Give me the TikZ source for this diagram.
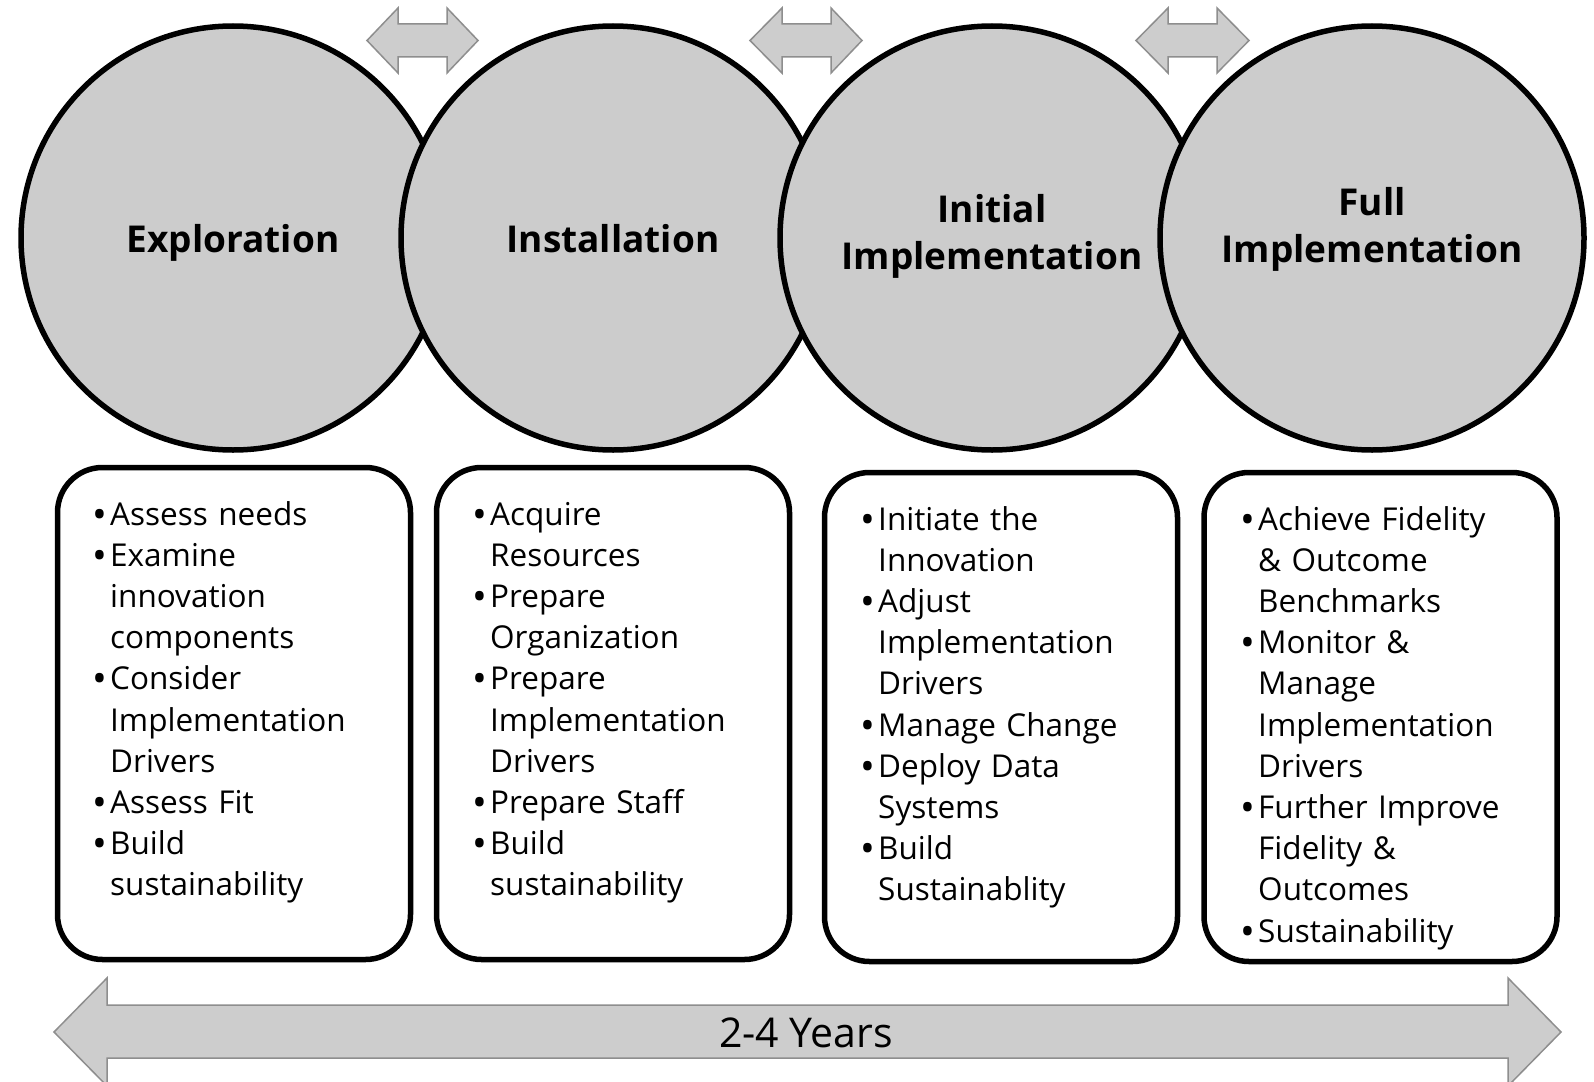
\documentclass[tikz,border=0pt]{standalone}
\usepackage{fontspec}
\setmainfont{Open Sans}
\definecolor{circgray}{HTML}{CCCCCC}
\definecolor{arrgray}{HTML}{CDCDCD}
\definecolor{arrline}{HTML}{8E8E8E}
\newcommand\bl{\makebox[19pt][l]{\hspace*{1pt}\raisebox{-3pt}{\scalebox{1.25}{•}}}}
\newcommand\cl{\hspace*{19pt}}
\begin{document}
\begin{tikzpicture}[x=1pt,y=-1pt,
  phase/.style={circle, draw=black, line width=5.5pt, fill=circgray, minimum size=424pt, inner sep=0pt},
  title/.style={anchor=base, text width=400pt, align=center, inner sep=0pt, font=\fontsize{37}{47}\selectfont\bfseries},
  infobox/.style={draw=black, line width=5.5pt, rounded corners=45pt, fill=white, inner sep=0pt},
  items/.style={anchor=base west, text width=340pt, align=left, inner sep=0pt, font=\fontsize{31.5}{41.2}\selectfont},
  shape arrow/.style={fill=arrgray, draw=arrline, line width=1.5pt, line join=miter}
]
\useasboundingbox (0,0) rectangle (1594,1081);

% top double arrows
\draw[shape arrow] (367,40.5) -- (398,8) -- (398,24) -- (447,24) -- (447,8) -- (478,40.5) -- (447,73) -- (447,57) -- (398,57) -- (398,73) -- cycle;
\draw[shape arrow] (750,40.5) -- (782,8) -- (782,24) -- (831,24) -- (831,8) -- (862,40.5) -- (831,73) -- (831,57) -- (782,57) -- (782,73) -- cycle;
\draw[shape arrow] (1136,40.5) -- (1168,8) -- (1168,24) -- (1217,24) -- (1217,8) -- (1249,40.5) -- (1217,73) -- (1217,57) -- (1168,57) -- (1168,73) -- cycle;

% circles
\node[phase] (c1) at (233,238) {};
\node[phase] (c2) at (613,238) {};
\node[phase] (c3) at (992,238) {};
\node[phase] (c4) at (1372,238) {};

\node[title] (t1) at (233,252) {Exploration};
\node[title] (t2) at (613,252) {Installation};
\node[title] (t3) at (992,222) {Initial\\Implementation};
\node[title] (t4) at (1372,215) {Full\\Implementation};

% boxes
\node[infobox, minimum width=353pt, minimum height=492pt] (b1) at (234,713.5) {};
\node[infobox, minimum width=353pt, minimum height=492pt] (b2) at (613,713.5) {};
\node[infobox, minimum width=353pt, minimum height=489pt] (b3) at (1001,717) {};
\node[infobox, minimum width=353pt, minimum height=489pt] (b4) at (1380.5,717) {};

\node[items] (l1) at (91,525) {\bl Assess needs\\ \bl Examine\\ \cl innovation\\ \cl components\\ \bl Consider\\ \cl Implementation\\ \cl Drivers\\ \bl Assess Fit\\ \bl Build\\ \cl sustainability};
\node[items] (l2) at (471,525) {\bl Acquire\\ \cl Resources\\ \bl Prepare\\ \cl Organization\\ \bl Prepare\\ \cl Implementation\\ \cl Drivers\\ \bl Prepare Staff\\ \bl Build\\ \cl sustainability};
\node[items] (l3) at (859,530) {\bl Initiate the\\ \cl Innovation\\ \bl Adjust\\ \cl Implementation\\ \cl Drivers\\ \bl Manage Change\\ \bl Deploy Data\\ \cl Systems\\ \bl Build\\ \cl Sustainablity};
\node[items] (l4) at (1239,530) {\bl Achieve Fidelity\\ \cl \& Outcome\\ \cl Benchmarks\\ \bl Monitor \&\\ \cl Manage\\ \cl Implementation\\ \cl Drivers\\ \bl Further Improve\\ \cl Fidelity \&\\ \cl Outcomes\\ \bl Sustainability};

% bottom arrow
\draw[shape arrow] (54,1032) -- (107,978) -- (107,1005) -- (1508,1005) -- (1508,978) -- (1561,1032) -- (1508,1086) -- (1508,1058) -- (107,1058) -- (107,1086) -- cycle;
\node[anchor=base, inner sep=0pt, font=\fontsize{41}{49}\selectfont] (yrs) at (806,1047) {2-4 Years};
\end{tikzpicture}
\end{document}
